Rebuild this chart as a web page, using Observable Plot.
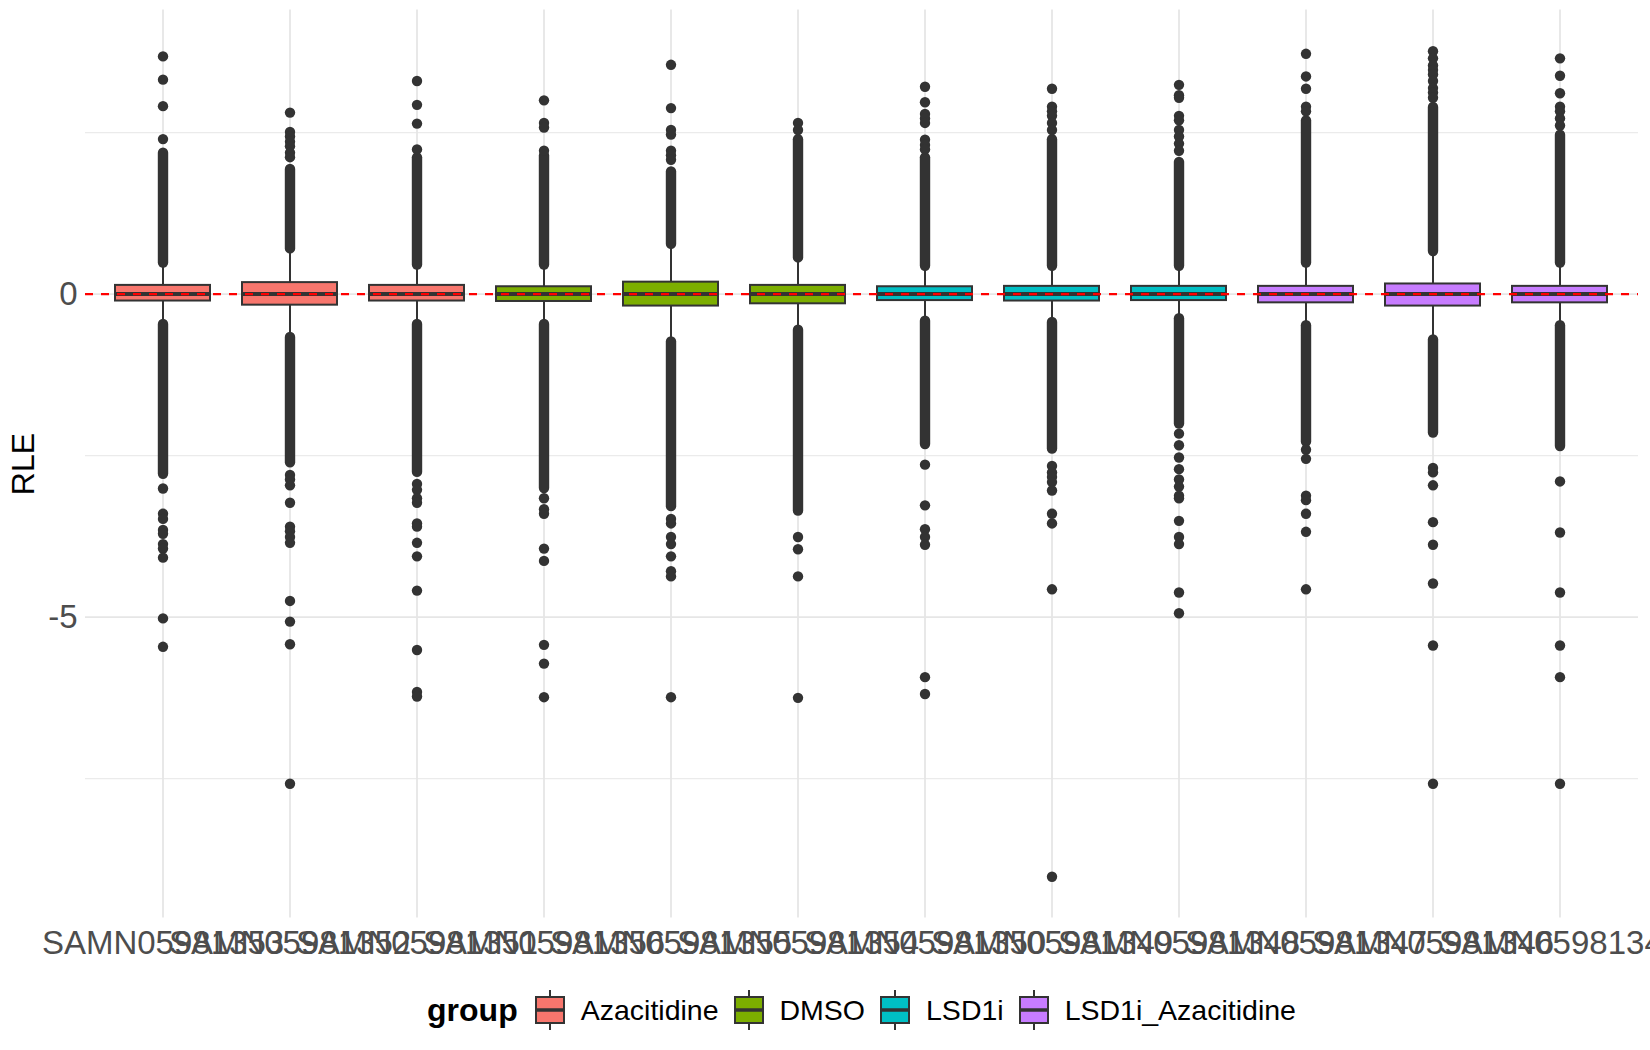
<!DOCTYPE html>
<html><head><meta charset="utf-8">
<script src="https://cdn.jsdelivr.net/npm/d3@7"></script>
<script src="https://cdn.jsdelivr.net/npm/@observablehq/plot@0.6"></script>
<style>
body{margin:0;background:#fff;font-family:"Liberation Sans",Arial,sans-serif;}
#chart svg{display:block;}
#legend{display:flex;align-items:center;justify-content:center;height:80px;margin-left:73px;width:1577px;}
#legend .title{font-weight:bold;font-size:32px;color:#000;margin-right:17px;}
#legend .item{display:flex;align-items:center;margin-right:15px;}
#legend .item:last-child{margin-right:0;}
#legend .item svg{margin-right:16px;}
#legend .lab{font-size:28.5px;color:#000;}
</style></head><body>
<div id="chart"></div><div id="legend"></div>
<script>
const samples = ["SAMN05981353","SAMN05981352","SAMN05981351","SAMN05981356","SAMN05981355","SAMN05981354","SAMN05981350","SAMN05981349","SAMN05981348","SAMN05981347","SAMN05981346","SAMN05981345"];
const groups = ["Azacitidine","Azacitidine","Azacitidine","DMSO","DMSO","DMSO","LSD1i","LSD1i","LSD1i","LSD1i_Azacitidine","LSD1i_Azacitidine","LSD1i_Azacitidine"];
const groupNames = ["Azacitidine","DMSO","LSD1i","LSD1i_Azacitidine"];
const groupColors = ["#F8766D","#7CAE00","#00BFC4","#C77CFF"];
const q1 = [-0.107,-0.171,-0.107,-0.114,-0.185,-0.15,-0.1,-0.107,-0.1,-0.135,-0.185,-0.135];
const medians = [0,0,0,0,0,0,0,0,0,0,0,0];
const q3 = [0.135,0.178,0.135,0.114,0.185,0.135,0.114,0.12,0.12,0.12,0.157,0.12];
const whiskerLow = [-0.45,-0.65,-0.45,-0.45,-0.72,-0.54,-0.40,-0.42,-0.36,-0.47,-0.69,-0.47];
const whiskerHigh = [0.46,0.68,0.43,0.43,0.75,0.54,0.41,0.41,0.41,0.46,0.64,0.46];
const denseUpper = [[0.48,2.18],[0.70,1.93],[0.45,2.11],[0.45,2.14],[0.77,1.89],[0.56,2.39],[0.43,2.11],[0.43,2.39],[0.43,2.04],[0.48,2.68],[0.66,2.89],[0.48,2.46]];
const denseLower = [[-0.47,-2.79],[-0.67,-2.61],[-0.47,-2.76],[-0.47,-3.01],[-0.74,-3.29],[-0.56,-3.36],[-0.42,-2.33],[-0.44,-2.40],[-0.38,-2.01],[-0.49,-2.29],[-0.71,-2.15],[-0.49,-2.36]];
const outlierValues = [
  [3.68,3.32,2.91,2.40,-3.01,-3.40,-3.48,-3.65,-3.71,-3.87,-3.94,-4.08,-5.02,-5.46],
  [2.81,2.51,2.44,2.36,2.29,2.19,2.12,-2.80,-2.87,-2.96,-3.23,-3.60,-3.67,-3.76,-3.85,-4.75,-5.07,-5.42,-7.58],
  [3.30,2.93,2.64,2.24,-2.94,-3.03,-3.16,-3.23,-3.55,-3.60,-3.85,-4.06,-4.59,-5.51,-6.16,-6.23],
  [3.00,2.65,2.58,2.22,-3.16,-3.33,-3.40,-3.94,-4.13,-5.43,-5.72,-6.24],
  [3.55,2.88,2.54,2.47,2.22,2.15,2.08,-3.48,-3.55,-3.76,-3.87,-4.06,-4.29,-4.37,-6.24],
  [2.65,2.54,-3.76,-3.95,-4.37,-6.25],
  [3.21,2.97,2.79,2.72,2.65,2.39,2.31,2.24,-2.64,-3.27,-3.64,-3.76,-3.88,-5.93,-6.19],
  [3.18,2.90,2.83,2.76,2.65,2.54,-2.66,-2.76,-2.83,-2.91,-3.04,-3.40,-3.55,-4.57,-9.02],
  [3.24,3.08,3.04,2.76,2.69,2.54,2.44,2.33,2.22,-2.16,-2.34,-2.53,-2.71,-2.87,-2.98,-3.12,-3.16,-3.51,-3.76,-3.87,-4.62,-4.94],
  [3.72,3.37,3.18,2.90,2.83,-2.41,-2.55,-3.12,-3.19,-3.40,-3.68,-4.57],
  [3.76,3.65,3.54,3.47,3.40,3.30,3.19,3.12,3.04,-2.69,-2.76,-2.96,-3.53,-3.88,-4.48,-5.44,-7.58],
  [3.65,3.38,3.11,2.90,2.83,2.72,2.61,-2.90,-3.69,-4.62,-5.44,-5.93,-7.58]
];
const yTicks = [0,-5];
const yMinor = [2.5,-2.5,-7.5];
const yDomain = [-9.66,4.40];

const boxes = samples.map((s,i)=>({sample:s,group:groups[i],q1:q1[i],median:medians[i],q3:q3[i],lo:whiskerLow[i],hi:whiskerHigh[i]}));
const dense = samples.flatMap((s,i)=>[{sample:s,from:denseUpper[i][0],to:denseUpper[i][1]},{sample:s,from:denseLower[i][0],to:denseLower[i][1]}]);
const outliers = samples.flatMap((s,i)=>outlierValues[i].map(v=>({sample:s,value:v})));

const ink = "#333333";
const chart = Plot.plot({
  width:1650, height:970,
  marginTop:9.4, marginBottom:52.4, marginLeft:85, marginRight:12,
  style:{fontFamily:'"Liberation Sans",Arial,sans-serif', fontSize:"33px", color:"#4D4D4D", background:"#fff"},
  x:{type:"band", domain:samples, paddingInner:0.25, paddingOuter:0.225, align:0.5},
  y:{domain:yDomain},
  color:{domain:groupNames, range:groupColors},
  marks:[
    Plot.gridY(yMinor,{stroke:"#EBEBEB",strokeOpacity:1,strokeWidth:1.2}),
    Plot.gridY(yTicks,{stroke:"#E6E6E6",strokeOpacity:1,strokeWidth:1.8}),
    Plot.gridX(samples,{stroke:"#E6E6E6",strokeOpacity:1,strokeWidth:1.8}),
    Plot.axisX({tickSize:0, tickPadding:12, label:null, fontSize:33}),
    Plot.axisY(yTicks,{tickSize:0, tickPadding:8, label:null, tickFormat:d=>String(d), fontSize:33}),
    Plot.ruleX(boxes,{x:"sample",y1:"q3",y2:"hi",stroke:ink,strokeWidth:2}),
    Plot.ruleX(boxes,{x:"sample",y1:"q1",y2:"lo",stroke:ink,strokeWidth:2}),
    Plot.ruleX(dense,{x:"sample",y1:"from",y2:"to",stroke:ink,strokeWidth:10.4,strokeLinecap:"round"}),
    Plot.dot(outliers,{x:"sample",y:"value",r:5.2,fill:ink,stroke:null}),
    Plot.barY(boxes,{x:"sample",y1:"q1",y2:"q3",fill:"group",stroke:ink,strokeWidth:2}),
    Plot.tickY(boxes,{x:"sample",y:"median",stroke:ink,strokeWidth:4}),
    Plot.ruleY([0],{stroke:"#FF0000",strokeWidth:2.2,strokeDasharray:"8,8"}),
    Plot.text(["RLE"],{frameAnchor:"left",dx:-62,rotate:-90,textAnchor:"middle",lineAnchor:"middle",fontSize:32,fill:"#000"})
  ]
});
document.getElementById("chart").appendChild(chart);

const legend = document.getElementById("legend");
const t = document.createElement("span"); t.className="title"; t.textContent="group"; legend.appendChild(t);
groupNames.forEach((g,i)=>{
  const item=document.createElement("div"); item.className="item";
  item.innerHTML=`<svg width="30" height="40" viewBox="0 0 30 40"><line x1="15" y1="0" x2="15" y2="7" stroke="${ink}" stroke-width="2"/><line x1="15" y1="33" x2="15" y2="40" stroke="${ink}" stroke-width="2"/><rect x="1" y="7" width="28" height="26" fill="${groupColors[i]}" stroke="${ink}" stroke-width="2"/><line x1="1" y1="20" x2="29" y2="20" stroke="${ink}" stroke-width="3.5"/></svg><span class="lab">${g}</span>`;
  legend.appendChild(item);
});
</script>
</body></html>
